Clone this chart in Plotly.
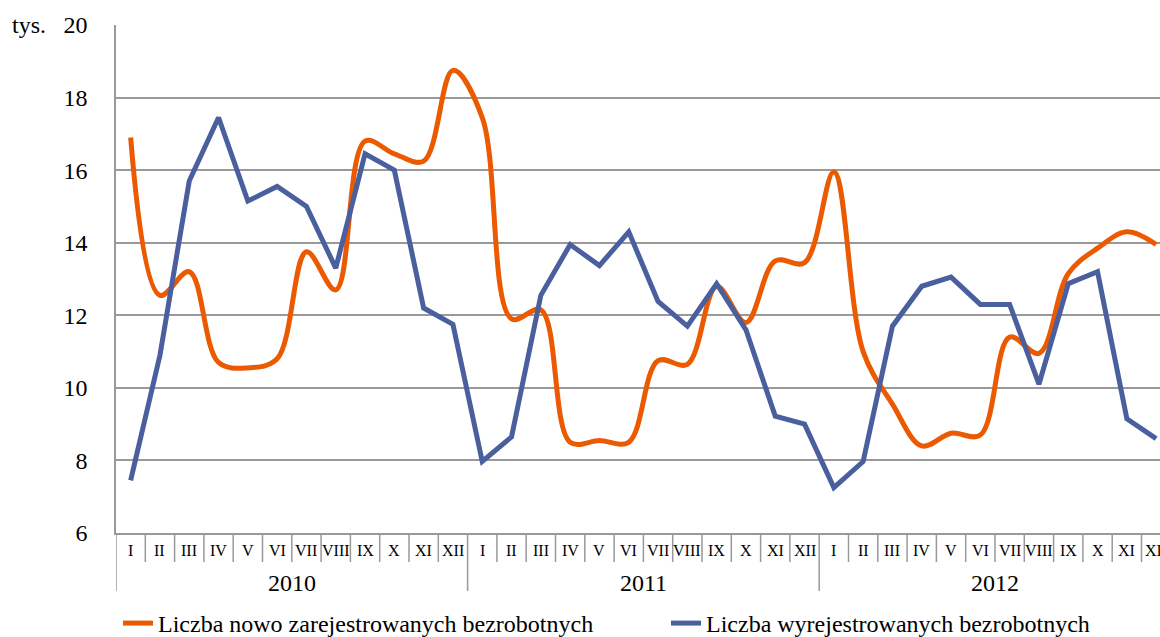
import plotly.graph_objects as go

months = ["I", "II", "III", "IV", "V", "VI", "VII", "VIII", "IX", "X", "XI", "XII"] * 3
years = ["2010", "2011", "2012"]

nowo = [16.9, 12.55, 13.2, 10.7, 10.55, 10.8, 13.75, 12.7, 16.8, 16.45, 16.25, 18.75,
        17.45, 11.9, 12.15, 8.5, 8.55, 8.5, 10.75, 10.65, 12.8, 11.8, 13.5, 13.45,
        15.95, 11.0, 9.55, 8.4, 8.75, 8.7, 11.4, 10.95, 13.15, 13.85, 14.3, 13.95]
wyrej = [7.45, 10.9, 15.7, 17.45, 15.15, 15.55, 15.0, 13.3, 16.45, 16.0, 12.2, 11.75,
         7.97, 8.65, 12.55, 13.95, 13.37, 14.3, 12.38, 11.7, 12.87, 11.6, 9.22, 9.0,
         7.25, 7.97, 11.7, 12.8, 13.05, 12.3, 12.3, 10.1, 12.87, 13.2, 9.15, 8.6]

y_ticks = [6, 8, 10, 12, 14, 16, 18, 20]

ORANGE = "#EB5A00"
BLUE = "#4A5F9E"
GRID = "#999999"
FONT = "Liberation Serif, Times New Roman, serif"

xs = list(range(len(months)))

W, H = 1160, 637
plot_left, plot_top, plot_bottom = 116, 25, 533
ml, mt, mb = plot_left, plot_top, H - plot_bottom
plot_h = plot_bottom - plot_top
cell = 29.3
xmax = -0.5 + (W - ml) / cell

fig = go.Figure()
fig.add_trace(go.Scatter(x=xs, y=nowo, mode="lines", name="Liczba nowo zarejestrowanych bezrobotnych",
                         line=dict(color=ORANGE, width=5, shape="spline", smoothing=1.0), legend="legend"))
fig.add_trace(go.Scatter(x=xs, y=wyrej, mode="lines", name="Liczba wyrejestrowanych bezrobotnych",
                         line=dict(color=BLUE, width=5), legend="legend2"))

shapes = []
for b in range(len(months) + 1):
    xb = b - 0.5
    is_year = (b % 12 == 0)
    depth = (591 - 533) if is_year else (562 - 533)
    shapes.append(dict(type="line", xref="x", yref="paper", x0=xb, x1=xb, y0=0, y1=-depth / plot_h,
                       line=dict(color=GRID, width=1.5), layer="above"))

annotations = []
for i, m in enumerate(months):
    annotations.append(dict(x=i, y=-(550 - 533) / plot_h, xref="x", yref="paper", text=m, showarrow=False,
                            xanchor="center", yanchor="middle", font=dict(family=FONT, size=16, color="#000")))
for k, yr in enumerate(years):
    annotations.append(dict(x=k * 12 + 5.5, y=-(583 - 533) / plot_h, xref="x", yref="paper", text=yr,
                            showarrow=False, xanchor="center", yanchor="middle",
                            font=dict(family=FONT, size=24, color="#000")))
annotations.append(dict(x=(10 - ml) / (W - ml), y=1, xref="paper", yref="paper", text="tys.", showarrow=False,
                        xanchor="left", yanchor="middle", font=dict(family=FONT, size=24, color="#000")))

legend_common = dict(orientation="h", xref="container", yref="container", xanchor="left", yanchor="top",
                     font=dict(family=FONT, size=24, color="#000"), bgcolor="rgba(0,0,0,0)",
                     itemwidth=30, borderwidth=0)
legend_top = 1 - 601 / H

fig.update_layout(
    width=W, height=H,
    margin=dict(l=ml, r=0, t=mt, b=mb, pad=0),
    paper_bgcolor="white", plot_bgcolor="white",
    font=dict(family=FONT, size=24, color="#000"),
    xaxis=dict(range=[-0.5, xmax], showgrid=False, zeroline=False, showticklabels=False,
               showline=True, linecolor=GRID, linewidth=1.5, ticks=""),
    yaxis=dict(range=[6, 20], tickvals=y_ticks, showgrid=True, gridcolor=GRID, gridwidth=1.5,
               zeroline=False, showline=True, linecolor=GRID, linewidth=1.5, ticks="",
               ticklabelstandoff=22, tickfont=dict(family=FONT, size=24, color="#000")),
    shapes=shapes,
    annotations=annotations,
    showlegend=True,
    legend=dict(x=118 / W, y=legend_top, **legend_common),
    legend2=dict(x=666 / W, y=legend_top, **legend_common),
)

fig.write_html("out.html", config={"displayModeBar": False},
               post_script="document.body.style.margin='0';document.body.style.overflow='hidden';")
